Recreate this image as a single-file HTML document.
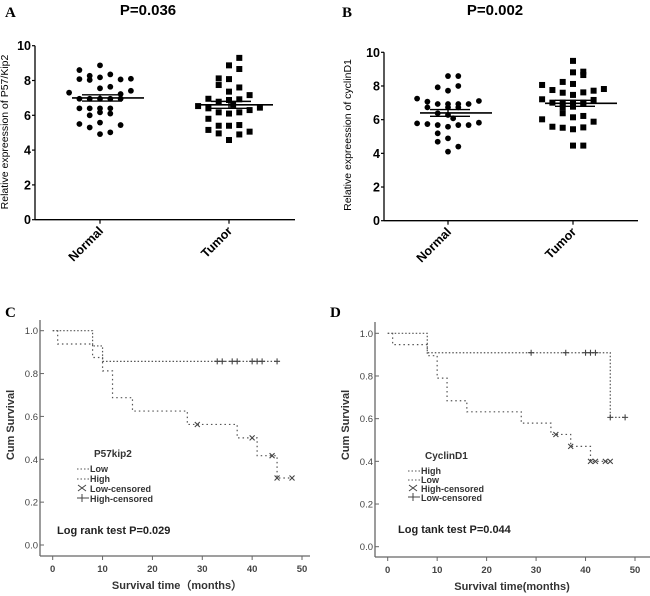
<!DOCTYPE html>
<html><head><meta charset="utf-8"><style>
html,body{margin:0;padding:0;background:#fff;}
svg{display:block;font-family:"Liberation Sans",sans-serif;}
</style></head><body>
<svg id="fig" width="650" height="596" viewBox="0 0 650 596" xmlns="http://www.w3.org/2000/svg">
<text x="5" y="17" font-family="Liberation Serif" font-weight="bold" font-size="15">A</text>
<text x="148" y="15" text-anchor="middle" font-weight="bold" font-size="15">P=0.036</text>
<text x="342" y="17" font-family="Liberation Serif" font-weight="bold" font-size="15">B</text>
<text x="495" y="15" text-anchor="middle" font-weight="bold" font-size="15">P=0.002</text>
<text x="5" y="317" font-family="Liberation Serif" font-weight="bold" font-size="15">C</text>
<text x="330" y="317" font-family="Liberation Serif" font-weight="bold" font-size="15">D</text>
<g id="gA"></g><g id="gB"></g><g id="gC"></g><g id="gD"></g>
</svg>
<script>
// ---- Panel A data ----
const aCategories = ["Normal","Tumor"];
const aNormal = [8.6,8.87,8.27,8.08,8.03,8.18,8.35,8.06,8.1,7.3,7.55,7.64,7.22,7.41,6.95,6.95,6.95,6.95,6.95,6.4,6.4,6.4,6.4,6.0,6.17,6.1,5.5,5.3,5.58,5.44,4.92,5.02];
const aNormalJit = [-2,0,-1,-2,-1,0,1,2,3,-3,0,1,2,3,-2,-1,0,1,2,-1,0,1,-2,-1,0,1,-2,-1,0,2,0,1];
const aTumor = [9.3,8.87,8.66,8.12,8.08,7.74,7.6,7.36,7.16,6.95,6.78,6.88,6.92,6.53,6.4,6.17,6.1,6.17,6.3,6.44,6.6,5.8,5.16,4.96,5.4,5.4,5.44,4.9,5.06,4.58];
const aTumorJit = [1,0,1,-1,0,-1,1,0,2,-2,-1,0,1,-3,-2,-1,0,1,2,3,0.4,-2,-2,-1,-1,0,1,1,2,0];
const aMeans = [7.0,6.6];
const aSem = [0.18,0.2];
// ---- Panel B data ----
const bCategories = ["Normal","Tumor"];
const bNormal = [8.59,8.59,7.92,7.72,8.0,7.25,7.07,6.93,6.93,6.93,6.93,7.11,6.73,6.73,6.73,6.38,6.28,6.08,5.78,5.74,5.68,5.58,5.68,5.68,5.82,5.19,4.89,4.69,4.4,4.1];
const bNormalJit = [0,1,-1,0,1,-3,-2,-1,0,1,2,3,-2,0,1,-1,0,0.5,-3,-2,-1,0,1,2,3,-1,0,-1,1,0];
const bTumor = [9.49,8.81,8.85,8.65,8.06,8.24,8.12,7.76,7.6,7.62,7.72,7.82,7.47,7.21,7.01,7.01,7.01,7.01,7.17,6.73,6.77,6.93,6.38,6.02,6.14,6.22,5.88,5.58,5.52,5.43,5.54,4.46,4.46];
const bTumorJit = [0,0,1,1,-3,-1,0,-2,-1,1,2,3,0,-3,-2,-1,0,1,2,-1,0,1,-1,-3,0,1,2,-2,-1,0,1,0,1];
const bMeans = [6.4,6.97];
const bSem = [0.2,0.18];
const yTicks = [0,2,4,6,8,10];
// ---- Panel C data ----
const cTicksX = [0,10,20,30,40,50];
const cTicksY = [0.0,0.2,0.4,0.6,0.8,1.0];
const cLowT = [0,1,8,10,12,16,27,37,41,45,48];
const cLowS = [1.0,0.938,0.875,0.8125,0.6875,0.625,0.5625,0.5,0.4167,0.3125,0.3125];
const cLowCensT = [29,40,44,45,48];
const cHighT = [0,8,10,45];
const cHighS = [1.0,0.929,0.857,0.857];
const cHighCensT = [33,34,36,37,40,41,42,45];
// ---- Panel D data ----
const dHighT = [0,1,8,10,12,16,27,33,37,41,45];
const dHighS = [1.0,0.947,0.895,0.79,0.684,0.632,0.579,0.526,0.47,0.40,0.40];
const dHighCensT = [34,37,41,42,44,45];
const dLowT = [0,8,45,48];
const dLowS = [1.0,0.909,0.606,0.606];
const dLowCensT = [29,36,40,41,42,45,48];

const NS="http://www.w3.org/2000/svg";
function mk(parent,tag,attrs,text){const e=document.createElementNS(NS,tag);for(const k in attrs)e.setAttribute(k,attrs[k]);if(text!==undefined)e.textContent=text;parent.appendChild(e);return e;}

function scatterPanel(g,cfg){
  const y=v=>cfg.y0+(cfg.y10-cfg.y0)*v/10;
  let e=mk(g,'line',{x1:cfg.ax,y1:cfg.y10,x2:cfg.ax,y2:cfg.y0,stroke:'#000','stroke-width':1.3});
  
  e=mk(g,'line',{x1:cfg.ax,y1:cfg.y0,x2:cfg.xEnd,y2:cfg.y0,stroke:'#000','stroke-width':1.3});
  
  yTicks.forEach(t=>{
    let l=mk(g,'line',{x1:cfg.ax-3,y1:y(t),x2:cfg.ax,y2:y(t),stroke:'#000','stroke-width':1.2});
    
    let tx=mk(g,'text',{x:cfg.ax-4,y:y(t)+4.5,'text-anchor':'end','font-size':12.5,'font-weight':'bold'},String(t));
    
  });
  cfg.cats.forEach((c,i)=>{
    const cx=cfg.cx[i];
    let l=mk(g,'line',{x1:cx,y1:cfg.y0,x2:cx,y2:cfg.y0+4,stroke:'#000','stroke-width':1.2});
    
    let tx=mk(g,'text',{x:cx+4,y:cfg.y0+12,'text-anchor':'end','font-size':12.5,'font-weight':'bold',transform:`rotate(-45 ${cx+4} ${cfg.y0+12})`},c);
    
  });
  let yt=mk(g,'text',{x:cfg.ylx,y:cfg.yly,'text-anchor':'middle','font-size':10.5,transform:`rotate(-90 ${cfg.ylx} ${cfg.yly})`},cfg.ylabel);
  
  cfg.series.forEach((s,i)=>{
    const cx=cfg.cx[i];
    s.vals.forEach((v,j)=>{
      const px=cx+s.jit[j]*10.3, py=y(v);
      let m;
      if(i===0) m=mk(g,'circle',{cx:px,cy:py,r:2.9,fill:'#000'});
      else m=mk(g,'rect',{x:px-3,y:py-3,width:6,height:6,fill:'#000'});
      
      
    });
    let ml=mk(g,'line',{x1:cx-28,y1:y(cfg.means[i]),x2:cx+44,y2:y(cfg.means[i]),stroke:'#000','stroke-width':1.6});
    
    [1,-1].forEach(sg=>{
      const yy=y(cfg.means[i]+sg*cfg.sem[i]);
      let el=mk(g,'line',{x1:cx-18,y1:yy,x2:cx+22,y2:yy,stroke:'#000','stroke-width':1.4});
      
    });
    let vl=mk(g,'line',{x1:cx,y1:y(cfg.means[i]+cfg.sem[i]),x2:cx,y2:y(cfg.means[i]-cfg.sem[i]),stroke:'#000','stroke-width':1.4});
    
  });
}
scatterPanel(document.getElementById('gA'),{ax:35,xEnd:295,y0:219.7,y10:45.7,cx:[100,229],cats:aCategories,
  ylx:8,yly:132,ylabel:'Relative expreession of P57/Kip2',
  series:[{vals:aNormal,jit:aNormalJit},{vals:aTumor,jit:aTumorJit}],means:aMeans,sem:aSem});
scatterPanel(document.getElementById('gB'),{ax:384,xEnd:638,y0:220.7,y10:52.3,cx:[448,573],cats:bCategories,
  ylx:351,yly:135,ylabel:'Relative expreession of cyclinD1',
  series:[{vals:bNormal,jit:bNormalJit},{vals:bTumor,jit:bTumorJit}],means:bMeans,sem:bSem});

function kmPanel(g,cfg){
  const X=t=>cfg.x0+(cfg.x50-cfg.x0)*t/50, Y=s=>cfg.y0+(cfg.y1-cfg.y0)*s;
  const col='#666';
  let e=mk(g,'line',{x1:cfg.ax,y1:cfg.yTop,x2:cfg.ax,y2:cfg.axY,stroke:col,'stroke-width':1.3});
  
  e=mk(g,'line',{x1:cfg.ax,y1:cfg.axY,x2:cfg.xEnd,y2:cfg.axY,stroke:col,'stroke-width':1.3});
  
  cTicksY.forEach(t=>{
    let l=mk(g,'line',{x1:cfg.ax,y1:Y(t),x2:cfg.ax+4,y2:Y(t),stroke:col});
    
    let tx=mk(g,'text',{x:cfg.ax-2,y:Y(t)+3.5,'text-anchor':'end','font-size':9.5,fill:'#444'},t.toFixed(1));
    
  });
  cTicksX.forEach(t=>{
    let l=mk(g,'line',{x1:X(t),y1:cfg.axY,x2:X(t),y2:cfg.axY+4,stroke:col});
    
    let tx=mk(g,'text',{x:X(t),y:cfg.axY+16,'text-anchor':'middle','font-size':9.5,'font-weight':'bold',fill:'#444'},String(t));
    
  });
  let xt=mk(g,'text',{x:cfg.xtx,y:cfg.axY+33,'text-anchor':'middle','font-size':11,'font-weight':'bold',fill:'#333'},cfg.xlabel);
  
  let yt=mk(g,'text',{x:cfg.ylx,y:cfg.yly,'text-anchor':'middle','font-size':11,'font-weight':'bold',fill:'#333',transform:`rotate(-90 ${cfg.ylx} ${cfg.yly})`},'Cum Survival');
  
  cfg.curves.forEach(c=>{
    let d=`M${X(c.t[0])},${Y(c.s[0])}`;
    for(let i=1;i<c.t.length;i++){d+=` H${X(c.t[i])} V${Y(c.s[i])}`;}
    let p=mk(g,'path',{d:d,fill:'none',stroke:'#555','stroke-width':1.2,'stroke-dasharray':c.dash});
    
    c.cens.forEach(t=>{
      let s=c.s[0];for(let i=0;i<c.t.length;i++){if(c.t[i]<=t)s=c.s[i];}
      const px=X(t),py=Y(s);
      let m=mk(g,'path',{d:c.mark==='x'?`M${px-2.5},${py-2.5}L${px+2.5},${py+2.5}M${px-2.5},${py+2.5}L${px+2.5},${py-2.5}`:`M${px-3},${py}H${px+3}M${px},${py-3}V${py+3}`,stroke:'#444','stroke-width':1.1});
      
    });
  });
  let lt=mk(g,'text',{x:cfg.lgx+17,y:cfg.lgy,'font-size':10,'font-weight':'bold',fill:'#333'},cfg.lgTitle);
  
  cfg.lgItems.forEach((it,i)=>{
    const yy=cfg.lgy+15+i*cfg.lgStep, x=cfg.lgx;
    let sym;
    if(i<2) sym=mk(g,'line',{x1:x,y1:yy-3,x2:x+12,y2:yy-3,stroke:'#555','stroke-dasharray':'1.5,2'});
    else if(i===2) sym=mk(g,'path',{d:`M${x+1},${yy-7}L${x+9},${yy-1}M${x+1},${yy-1}L${x+9},${yy-7}`,stroke:'#444',fill:'none'});
    else sym=mk(g,'path',{d:`M${x},${yy-4}H${x+12}M${x+5},${yy-8}V${yy}`,stroke:'#444',fill:'none'});
    
    let tx=mk(g,'text',{x:x+13,y:yy,'font-size':9,'font-weight':'bold',fill:'#333'},it);
    
  });
  let pt=mk(g,'text',{x:cfg.ptx,y:cfg.pty,'font-size':11,'font-weight':'bold',fill:'#222'},cfg.ptext);
  
}
kmPanel(document.getElementById('gC'),{ax:40,yTop:320,axY:556,xEnd:310,x0:52.7,x50:302,y0:545,y1:330.7,
  xtx:177,xlabel:'Survival time（months）',ylx:14,yly:425,
  curves:[{t:cLowT,s:cLowS,cens:cLowCensT,mark:'x',dash:'1.5,3',name:'low-curve'},{t:cHighT,s:cHighS,cens:cHighCensT,mark:'+',dash:'1.5,2',name:'high-curve'}],
  lgx:77,lgy:457,lgStep:10,lgTitle:'P57kip2',lgItems:['Low','High','Low-censored','High-censored'],
  ptx:57,pty:534,ptext:'Log rank test P=0.029'});
kmPanel(document.getElementById('gD'),{ax:375,yTop:322,axY:557,xEnd:650,x0:387.7,x50:635,y0:546.7,y1:333.3,
  xtx:512,xlabel:'Survival time(months)',ylx:349,yly:425,
  curves:[{t:dHighT,s:dHighS,cens:dHighCensT,mark:'x',dash:'1.5,3',name:'high-curve'},{t:dLowT,s:dLowS,cens:dLowCensT,mark:'+',dash:'1.5,2',name:'low-curve'}],
  lgx:408,lgy:459,lgStep:9,lgTitle:'CyclinD1',lgItems:['High','Low','High-censored','Low-censored'],
  ptx:398,pty:533,ptext:'Log tank test P=0.044'});
</script>
</body></html>
